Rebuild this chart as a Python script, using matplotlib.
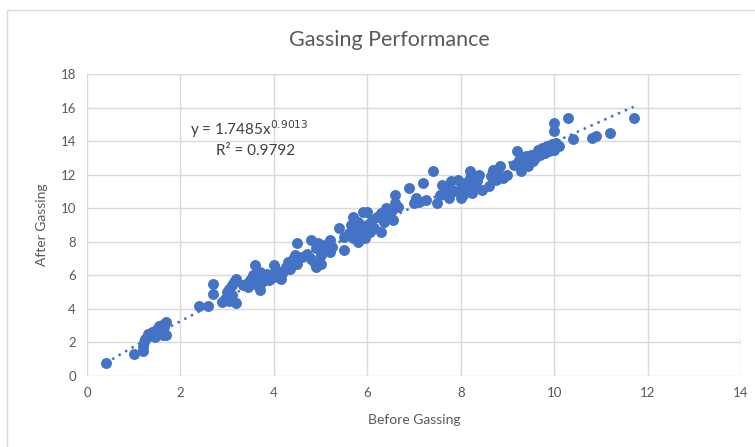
import numpy as np
import matplotlib.pyplot as plt
from matplotlib.patches import Rectangle

plt.rcParams['font.family'] = ['Lato', 'DejaVu Sans']

# before / after gassing readings
before = [0.40, 1.00, 1.20, 1.20, 1.22, 1.25, 1.30, 1.35, 1.40, 1.45, 1.50, 1.50, 1.55, 1.58, 1.60, 1.62, 1.65, 1.70, 1.70,
          2.40, 2.60, 2.70, 2.70, 2.90, 2.95, 3.00, 3.05, 3.05, 3.10, 3.15, 3.20, 3.20, 3.10,
          3.35, 3.40, 3.45, 3.50, 3.55, 3.60, 3.60, 3.65, 3.70, 3.70, 3.75, 3.80, 3.85, 3.90, 3.95, 4.00, 4.00, 4.05, 4.10, 4.15,
          4.20, 4.25, 4.30, 4.35, 4.40, 4.40, 4.45, 4.50, 4.50, 4.60, 4.70, 4.80, 4.80, 4.85, 4.90, 4.90, 4.95, 5.00, 5.00, 5.05,
          5.10, 5.20, 5.20, 5.25,
          5.40, 5.50, 5.50, 5.60, 5.65, 5.70, 5.70, 5.75, 5.80, 5.80, 5.85, 5.90, 5.90, 5.95, 6.00, 6.00, 6.05, 6.10, 6.15, 6.20,
          6.30, 6.30, 6.35, 6.40, 6.45, 6.50, 6.55, 6.60, 6.60, 6.65,
          6.90, 7.00, 7.05, 7.10, 7.20, 7.25, 7.40, 7.50, 7.55, 7.60, 7.65, 7.70, 7.75, 7.80, 7.85, 7.95, 8.00, 8.00,
          8.05, 8.10, 8.15, 8.20, 8.20, 8.25, 8.30, 8.35, 8.40, 8.45, 8.60, 8.65, 8.70, 8.75, 8.80, 8.85, 8.90, 9.00,
          9.15, 9.20, 9.25, 9.30, 9.35, 9.40, 9.45, 9.50, 9.55, 9.60, 9.65, 9.70, 9.75, 9.80, 9.85, 9.90, 9.95, 10.00, 10.00,
          10.00, 10.05, 10.10, 10.30, 10.40,
          10.80, 10.90, 11.20, 11.70]
after = [0.80, 1.30, 1.50, 1.75, 2.00, 2.20, 2.50, 2.40, 2.60, 2.30, 2.80, 2.50, 3.00, 2.70, 3.05, 2.45, 2.90, 3.20, 2.45,
         4.20, 4.20, 4.90, 5.50, 4.40, 4.60, 5.00, 5.20, 4.50, 5.40, 5.60, 4.35, 5.80, 4.80,
         5.40, 5.50, 5.30, 5.70, 6.00, 6.60, 5.50, 5.90, 5.10, 6.20, 5.60, 5.80, 6.10, 5.70, 6.00, 6.60, 5.90, 6.30, 6.00, 5.80,
         6.20, 6.50, 6.80, 6.40, 7.00, 6.90, 7.20, 7.90, 6.70, 7.10, 7.30, 8.10, 7.00, 6.80, 6.50, 7.60, 7.90, 7.20, 6.70, 7.50,
         7.80, 8.10, 7.40, 7.70,
         8.80, 7.50, 8.30, 8.50, 9.00, 9.50, 8.20, 8.70, 8.00, 9.20, 8.40, 9.80, 8.90, 8.20, 9.80, 9.00, 8.60, 9.30, 8.80, 9.50,
         8.60, 9.70, 9.20, 10.00, 9.50, 9.80, 9.30, 10.80, 10.30, 10.10,
         11.20, 10.30, 10.60, 10.40, 11.50, 10.50, 12.20, 10.30, 10.80, 11.40, 10.90, 11.20, 10.60, 11.60, 11.00, 11.70, 10.60, 11.20,
         10.80, 11.50, 11.00, 12.20, 11.80, 10.90, 11.30, 11.60, 12.00, 11.10, 11.30, 11.90, 12.30, 11.70, 12.10, 12.50, 11.80, 12.00,
         12.60, 13.40, 12.90, 12.20, 12.70, 13.10, 12.50, 13.20, 12.80, 13.00, 13.50, 13.20, 13.60, 13.30, 13.70, 13.40, 13.80, 13.50, 15.10,
         14.60, 13.90, 13.70, 15.40, 14.10,
         14.20, 14.30, 14.50, 15.40]

# power trendline shown on the chart
coef_a, coef_b = 1.7485, 0.9013
r2 = 0.9792

blue = '#4472C4'
grey = '#595959'

fig = plt.figure(figsize=(7.55, 4.47), dpi=100)
fig.patches.append(Rectangle((7/755, -0.05), 1.2, 1 - 10/447 + 0.05, transform=fig.transFigure,
                             fill=False, edgecolor='#d9d9d9', lw=1))
ax = fig.add_axes([87/755, 1 - 376/447, (741 - 87)/755, (376 - 74)/447])

ax.scatter(before, after, s=62, color=blue, zorder=3, linewidths=0)
xt = np.linspace(min(before), max(before), 200)
ax.plot(xt, coef_a * xt ** coef_b, linestyle=(0, (1, 2)), color=blue, lw=1.8, zorder=2)

ax.set_xlim(0, 14)
ax.set_ylim(0, 18)
ax.set_xticks(range(0, 15, 2))
ax.set_yticks(range(0, 19, 2))
ax.grid(True, color='#d9d9d9', lw=1)
ax.set_axisbelow(True)
for s in ax.spines.values():
    s.set_visible(False)
ax.tick_params(length=0, labelsize=9.5, colors=grey, pad=8)

ax.text(3.48, 14.7, 'y = %.4fx$^{%.4f}$' % (coef_a, coef_b), ha='center', va='center', fontsize=11, color='#404040')
ax.text(3.6, 13.4, 'R² = %.4f' % r2, ha='center', va='center', fontsize=11, color='#404040')

fig.text(389/755, 1 - 40/447, 'Gassing Performance', ha='center', va='center', fontsize=15.5, color=grey)
fig.text(414/755, 1 - 420/447, 'Before Gassing', ha='center', va='center', fontsize=10, color=grey)
fig.text(42/755, 1 - 225/447, 'After Gassing', ha='center', va='center', fontsize=10, color=grey, rotation=90)

fig.savefig('out.png', dpi=100)
